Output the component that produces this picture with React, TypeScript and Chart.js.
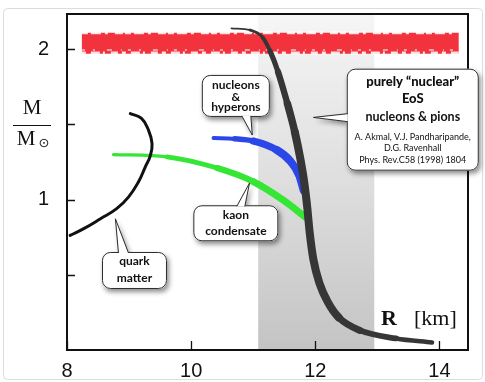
import React, { useEffect, useRef } from "react";
import { Chart, registerables } from "chart.js";
Chart.register(...registerables);

// ---- data ----
const xTicks = [8, 10, 12, 14];
const yTicks = [1, 2];
const yMinorTicks = [0.5, 1.5];
const xRange = [8, 14.46];
const yRange = [0, 2.235];
const bandR = [11.08, 12.95]; // shaded radius constraint
const pulsarR = [8.24, 14.31]; // 2 Msun observation band
const pulsarM = 2.04;

const eosR = [10.65, 10.95, 11.15, 11.27, 11.4, 11.55, 11.67, 11.76, 11.82, 11.87, 11.91, 11.97, 12.07, 12.2, 12.38, 12.72, 13.3, 13.88];
const eosM = [2.14, 2.128, 2.08, 1.99, 1.85, 1.64, 1.45, 1.27, 1.12, 0.95, 0.78, 0.6, 0.44, 0.32, 0.215, 0.13, 0.077, 0.05];

const hypR = [10.36, 10.7, 11.0, 11.38, 11.59, 11.73, 11.81];
const hypM = [1.41, 1.405, 1.39, 1.33, 1.26, 1.17, 1.06];

const kaonR = [8.75, 9.61, 10.42, 11.0, 11.49, 11.84];
const kaonM = [1.3, 1.285, 1.21, 1.12, 0.995, 0.884];

const quarkR = [9.02, 9.2, 9.31, 9.37, 9.34, 9.26, 9.15, 8.99, 8.8, 8.54, 8.27, 8.05];
const quarkM = [1.573, 1.54, 1.465, 1.373, 1.29, 1.217, 1.117, 1.017, 0.94, 0.873, 0.807, 0.762];

const pts = (xs: number[], ys: number[]) => xs.map((x, i) => ({ x, y: ys[i] }));

const SANS = "'Liberation Sans', Arial, sans-serif";
const SERIF = "'Liberation Serif', 'Times New Roman', serif";
const CALL = "Lato, 'Open Sans', sans-serif";

type Callout = {
  cx: number; cy: number; w: number; h: number;
  tail: { side: "top" | "bottom" | "left"; a: number; b: number; tx: number; ty: number };
  lines: { text: string; dy: number; font: string }[];
};

function drawCallout(chart: any, c: Callout) {
  const ctx = chart.ctx as CanvasRenderingContext2D;
  const xs = chart.scales.x, ys = chart.scales.y;
  const cx = xs.getPixelForValue(c.cx), cy = ys.getPixelForValue(c.cy);
  const x0 = cx - c.w / 2, y0 = cy - c.h / 2;
  const tipX = xs.getPixelForValue(c.tail.tx), tipY = ys.getPixelForValue(c.tail.ty);
  let b1: [number, number], b2: [number, number];
  if (c.tail.side === "top") { b1 = [cx + c.tail.a, y0 + 1]; b2 = [cx + c.tail.b, y0 + 1]; }
  else if (c.tail.side === "bottom") { b1 = [cx + c.tail.a, y0 + c.h - 1]; b2 = [cx + c.tail.b, y0 + c.h - 1]; }
  else { b1 = [x0 + 1, cy + c.tail.a]; b2 = [x0 + 1, cy + c.tail.b]; }
  const r = 8;
  ctx.save();
  ctx.shadowColor = "rgba(0,0,0,0.45)";
  ctx.shadowBlur = 5;
  ctx.shadowOffsetX = 2;
  ctx.shadowOffsetY = 3;
  ctx.fillStyle = "#fff";
  ctx.beginPath();
  ctx.roundRect(x0, y0, c.w, c.h, r);
  ctx.moveTo(b1[0], b1[1]);
  ctx.lineTo(tipX, tipY);
  ctx.lineTo(b2[0], b2[1]);
  ctx.closePath();
  ctx.fill();
  ctx.restore();
  ctx.save();
  ctx.strokeStyle = "#2a2a2a";
  ctx.lineWidth = 1;
  ctx.beginPath();
  ctx.roundRect(x0 + 0.5, y0 + 0.5, c.w - 1, c.h - 1, r);
  ctx.stroke();
  ctx.fillStyle = "#fff";
  ctx.beginPath();
  ctx.moveTo(b1[0], b1[1]);
  ctx.lineTo(tipX, tipY);
  ctx.lineTo(b2[0], b2[1]);
  ctx.closePath();
  ctx.fill();
  ctx.beginPath();
  ctx.moveTo(b1[0], b1[1]);
  ctx.lineTo(tipX, tipY);
  ctx.lineTo(b2[0], b2[1]);
  ctx.stroke();
  ctx.fillStyle = "#111";
  ctx.textAlign = "center";
  ctx.textBaseline = "middle";
  for (const l of c.lines) {
    ctx.font = l.font;
    ctx.fillText(l.text, cx, cy + l.dy);
  }
  ctx.restore();
}

const callouts: Callout[] = [
  {
    cx: 10.72, cy: 1.69, w: 68, h: 42,
    tail: { side: "bottom", a: 6, b: 15, tx: 10.985, ty: 1.43 },
    lines: [
      { text: "nucleons", dy: -11, font: `bold 12px ${CALL}` },
      { text: "&", dy: 1, font: `bold 12px ${CALL}` },
      { text: "hyperons", dy: 11, font: `bold 12px ${CALL}` },
    ],
  },
  {
    cx: 10.72, cy: 0.843, w: 85, h: 36,
    tail: { side: "top", a: 1, b: 9, tx: 10.94, ty: 1.11 },
    lines: [
      { text: "kaon", dy: -8, font: `bold 12px ${CALL}` },
      { text: "condensate", dy: 8, font: `bold 12px ${CALL}` },
    ],
  },
  {
    cx: 9.087, cy: 0.529, w: 65, h: 37,
    tail: { side: "top", a: -16, b: -6, tx: 8.78, ty: 0.873 },
    lines: [
      { text: "quark", dy: -9, font: `bold 12px ${CALL}` },
      { text: "matter", dy: 7.5, font: `bold 12px ${CALL}` },
    ],
  },
  {
    cx: 13.57, cy: 1.532, w: 132, h: 102,
    tail: { side: "left", a: -6, b: 2, tx: 11.97, ty: 1.547 },
    lines: [
      { text: "purely \u201Cnuclear\u201D", dy: -37.5, font: `900 13px ${CALL}` },
      { text: "EoS", dy: -20.5, font: `900 13px ${CALL}` },
      { text: "nucleons & pions", dy: -2.5, font: `bold 12.5px ${CALL}` },
      { text: "A. Akmal, V.J. Pandharipande,", dy: 17.5, font: `9px ${CALL}` },
      { text: "D.G. Ravenhall", dy: 28.5, font: `9px ${CALL}` },
      { text: "Phys. Rev.C58 (1998) 1804", dy: 40.5, font: `9px ${CALL}` },
    ],
  },
];

const decorPlugin = {
  id: "decor",
  beforeDatasetsDraw(chart: any) {
    const { ctx, chartArea: a, scales } = chart;
    const x1 = scales.x.getPixelForValue(bandR[0]);
    const x2 = scales.x.getPixelForValue(bandR[1]);
    const g = ctx.createLinearGradient(0, a.top, 0, a.bottom);
    g.addColorStop(0, "#f6f6f6");
    g.addColorStop(0.5, "#dedede");
    g.addColorStop(1, "#c4c4c4");
    ctx.save();
    ctx.fillStyle = g;
    ctx.fillRect(x1, a.top, x2 - x1, a.bottom - a.top);
    ctx.restore();
  },
  afterDraw(chart: any) {
    const { ctx, chartArea: a, scales } = chart;
    ctx.save();
    ctx.strokeStyle = "#dcdcdc";
    ctx.lineWidth = 1;
    ctx.beginPath();
    ctx.roundRect(3.5, 8.5, 479, 371, 4);
    ctx.stroke();
    ctx.strokeStyle = "#111";
    ctx.lineWidth = 2;
    ctx.strokeRect(a.left, a.top, a.right - a.left, a.bottom - a.top);
    ctx.lineWidth = 1.3;
    ctx.beginPath();
    for (const v of [...yTicks, ...yMinorTicks]) {
      const y = Math.round(scales.y.getPixelForValue(v)) + 0.5;
      ctx.moveTo(a.left, y);
      ctx.lineTo(a.left + 8, y);
    }
    for (const v of xTicks) {
      const x = Math.round(scales.x.getPixelForValue(v)) + 0.5;
      ctx.moveTo(x, a.bottom);
      ctx.lineTo(x, a.bottom - 9);
    }
    ctx.stroke();
    ctx.fillStyle = "#111";
    ctx.textBaseline = "middle";
    ctx.textAlign = "center";
    ctx.font = `21px ${SERIF}`;
    ctx.fillText("M", 32, 108);
    ctx.fillText("M", 26, 139);
    ctx.font = `13px 'DejaVu Sans', sans-serif`;
    ctx.fillText("\u2299", 44, 144);
    ctx.lineWidth = 1;
    ctx.beginPath();
    ctx.moveTo(13, 125.5);
    ctx.lineTo(51, 125.5);
    ctx.stroke();
    ctx.font = `bold 22px ${SERIF}`;
    ctx.textAlign = "left";
    ctx.fillText("R", 381, 319);
    ctx.font = `22px ${SERIF}`;
    ctx.fillText("[km]", 414, 319);
    ctx.restore();
    for (const c of callouts) drawCallout(chart, c);
  },
};

function taper(min: number, max: number, rise: number, fall: number, endW: number) {
  return (ctx: any) => {
    const n = ctx.chart.data.datasets[ctx.datasetIndex].data.length - 1;
    const t = (ctx.p0DataIndex + 0.5) / n;
    if (t < rise) return min + (max - min) * (t / rise);
    if (t > fall) return max - (max - endW) * ((t - fall) / (1 - fall));
    return max;
  };
}

const noPad = (s: any) => { s.paddingTop = 0; s.paddingBottom = 0; s.paddingLeft = 0; s.paddingRight = 0; };

export default function App() {
  const ref = useRef<HTMLCanvasElement>(null);
  useEffect(() => {
    document.body.style.margin = "0";
    document.body.style.overflow = "hidden";
    const chart = new Chart(ref.current!, {
      type: "line",
      data: {
        datasets: [
          {
            data: pts(eosR, eosM),
            borderColor: "rgb(54,54,54)",
            borderWidth: 8,
            borderCapStyle: "round",
            borderJoinStyle: "round",
            cubicInterpolationMode: "monotone",
            pointRadius: 0,
            segment: { borderWidth: taper(1.2, 8, 0.35, 0.8, 4) },
          } as any,
          {
            data: pts(quarkR, quarkM),
            borderColor: "#111",
            borderWidth: 3,
            borderCapStyle: "round",
            borderJoinStyle: "round",
            tension: 0.45,
            pointRadius: 0,
          } as any,
          {
            data: pts(hypR, hypM),
            borderColor: "#2b47e8",
            borderWidth: 7,
            borderCapStyle: "round",
            cubicInterpolationMode: "monotone",
            pointRadius: 0,
            segment: { borderWidth: taper(3, 8, 0.5, 0.9, 5) },
          } as any,
          {
            data: pts(kaonR, kaonM),
            borderColor: "#35e635",
            borderWidth: 6,
            borderCapStyle: "round",
            cubicInterpolationMode: "monotone",
            pointRadius: 0,
            segment: { borderWidth: taper(2.5, 7, 0.6, 0.95, 6) },
          } as any,
          {
            data: pts(pulsarR, [pulsarM + 0.07, pulsarM + 0.07]),
            borderColor: "rgba(255,255,255,0.85)",
            borderWidth: 3,
            borderDash: [6, 3, 10, 4, 3, 7, 8, 2],
            pointRadius: 0,
          } as any,
          {
            data: pts(pulsarR, [pulsarM - 0.045, pulsarM - 0.045]),
            borderColor: "rgba(255,255,255,0.7)",
            borderWidth: 1.5,
            borderDash: [3, 8, 2, 12, 5, 9, 1, 6],
            pointRadius: 0,
          } as any,
          {
            data: pts(pulsarR, [pulsarM - 0.065, pulsarM - 0.065]),
            borderColor: "rgba(255,255,255,0.85)",
            borderWidth: 3,
            borderDash: [4, 5, 9, 3, 2, 6, 7, 4],
            pointRadius: 0,
          } as any,
          {
            data: pts(pulsarR, [pulsarM, pulsarM]),
            borderColor: "#f2333e",
            borderWidth: 21,
            borderCapStyle: "butt",
            pointRadius: 0,
          } as any,
        ],
      },
      options: {
        responsive: false,
        animation: false,
        devicePixelRatio: 1,
        layout: { padding: { left: 0, right: 17, top: 14, bottom: 0 } },
        plugins: { legend: { display: false }, tooltip: { enabled: false } },
        scales: {
          x: {
            type: "linear",
            min: xRange[0],
            max: xRange[1],
            grid: { display: false },
            border: { display: false },
            afterBuildTicks: (s: any) => { s.ticks = xTicks.map((v) => ({ value: v })); },
            afterFit: (s: any) => { s.height = 32; noPad(s); },
            ticks: { font: { family: SANS, size: 20 }, color: "#111", padding: 1, maxRotation: 0, autoSkip: false },
          },
          y: {
            type: "linear",
            min: yRange[0],
            max: yRange[1],
            grid: { display: false },
            border: { display: false },
            afterBuildTicks: (s: any) => { s.ticks = yTicks.map((v) => ({ value: v })); },
            afterFit: (s: any) => { s.width = 67; noPad(s); },
            ticks: { font: { family: SANS, size: 20 }, color: "#111", padding: 10 },
          },
        },
      } as any,
      plugins: [decorPlugin],
    });
    return () => chart.destroy();
  }, []);
  return (
    <div style={{ width: 485, height: 382, background: "#fff" }}>
      <canvas ref={ref} width={485} height={382} style={{ width: 485, height: 382, display: "block" }} />
    </div>
  );
}
